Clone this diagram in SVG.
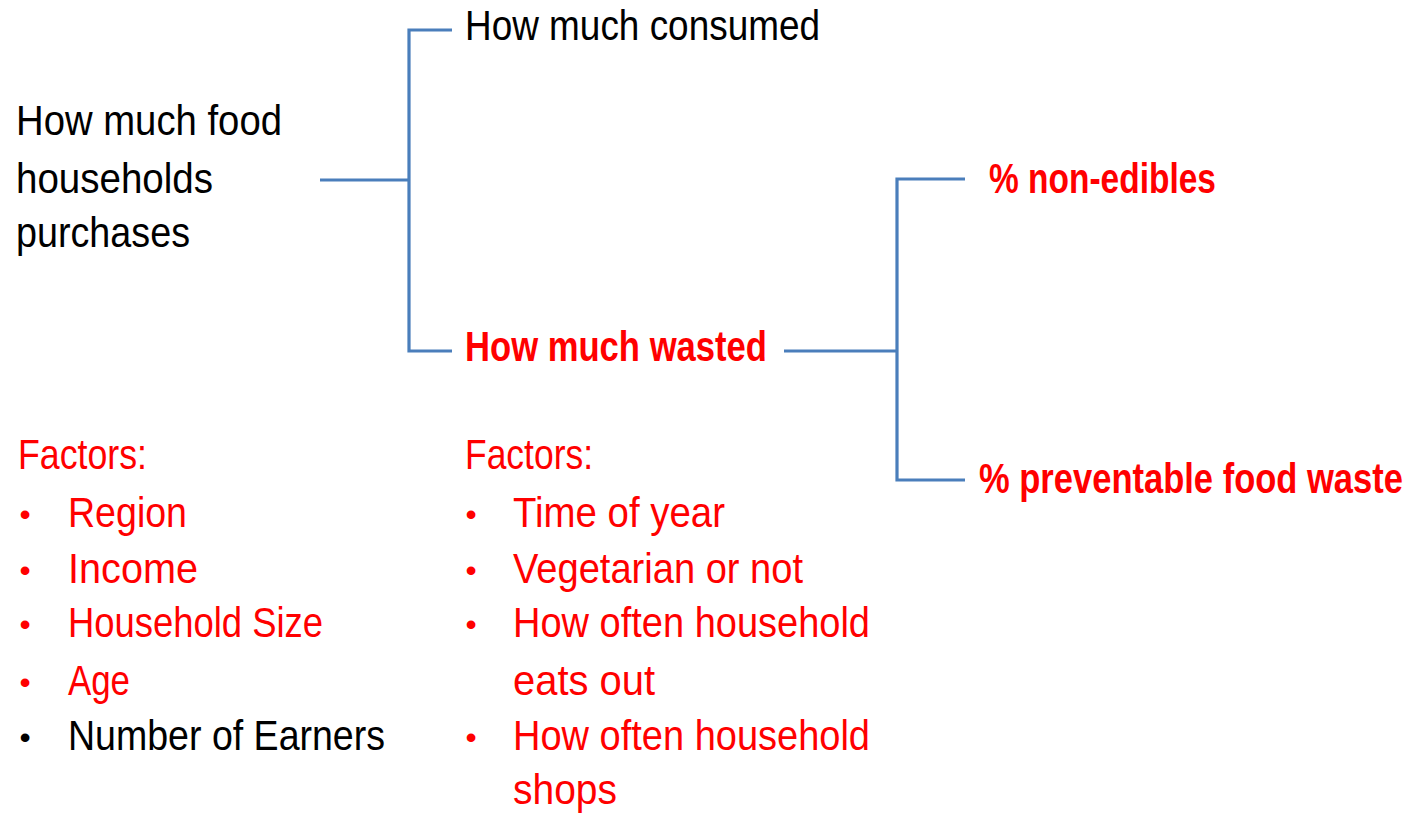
<svg xmlns="http://www.w3.org/2000/svg" width="1414" height="814" viewBox="0 0 1414 814">
<style>
text{font-family:"Liberation Sans",Arial,sans-serif;font-size:42px}
.k{fill:#000}
.r{fill:#ff0000}
.b{font-weight:bold}
.blt{text-anchor:middle;font-size:32px}
.conn{fill:none;stroke:#4a7ebb;stroke-width:3.2}
</style>
<rect width="1414" height="814" fill="#fff"/>
<g id="connectors">
<path class="conn" d="M320,180 H409 M452,30 H409 V351 H452"/>
<path class="conn" d="M784,351 H897 M965,179 H897 V480 H965"/>
</g>
<g id="node-purchases">
<text class="k" x="16" y="135" textLength="266" lengthAdjust="spacingAndGlyphs">How much food</text>
<text class="k" x="16" y="193" textLength="197" lengthAdjust="spacingAndGlyphs">households</text>
<text class="k" x="16" y="247" textLength="174" lengthAdjust="spacingAndGlyphs">purchases</text>
</g>
<g id="node-consumed">
<text class="k" x="465" y="40" textLength="355" lengthAdjust="spacingAndGlyphs">How much consumed</text>
</g>
<g id="node-wasted">
<text class="r b" x="465" y="361" textLength="302" lengthAdjust="spacingAndGlyphs">How much wasted</text>
</g>
<g id="node-nonedibles">
<text class="r b" x="989" y="193" textLength="227" lengthAdjust="spacingAndGlyphs">% non-edibles</text>
</g>
<g id="node-preventable">
<text class="r b" transform="translate(979,493) scale(0.822,1)">% preventable food waste</text>
</g>
<g id="factors-purchases">
<text class="r" x="18" y="469" textLength="129" lengthAdjust="spacingAndGlyphs">Factors:</text>
<text class="r blt" x="25" y="525">•</text>
<text class="r" x="68" y="527" textLength="119" lengthAdjust="spacingAndGlyphs">Region</text>
<text class="r blt" x="25" y="581">•</text>
<text class="r" x="68" y="583" textLength="130" lengthAdjust="spacingAndGlyphs">Income</text>
<text class="r blt" x="25" y="635">•</text>
<text class="r" x="68" y="637" textLength="255" lengthAdjust="spacingAndGlyphs">Household Size</text>
<text class="r blt" x="25" y="693">•</text>
<text class="r" x="68" y="695" textLength="62" lengthAdjust="spacingAndGlyphs">Age</text>
<text class="k blt" x="25" y="748">•</text>
<text class="k" x="68" y="750" textLength="317" lengthAdjust="spacingAndGlyphs">Number of Earners</text>
</g>
<g id="factors-wasted">
<text class="r" x="465" y="469" textLength="128" lengthAdjust="spacingAndGlyphs">Factors:</text>
<text class="r blt" x="471" y="525">•</text>
<text class="r" x="513" y="527" textLength="212" lengthAdjust="spacingAndGlyphs">Time of year</text>
<text class="r blt" x="471" y="581">•</text>
<text class="r" x="513" y="583" textLength="290" lengthAdjust="spacingAndGlyphs">Vegetarian or not</text>
<text class="r blt" x="471" y="635">•</text>
<text class="r" x="513" y="637" textLength="357" lengthAdjust="spacingAndGlyphs">How often household</text>
<text class="r" x="513" y="695" textLength="142" lengthAdjust="spacingAndGlyphs">eats out</text>
<text class="r blt" x="471" y="748">•</text>
<text class="r" x="513" y="750" textLength="357" lengthAdjust="spacingAndGlyphs">How often household</text>
<text class="r" x="513" y="804" textLength="104" lengthAdjust="spacingAndGlyphs">shops</text>
</g>
</svg>
